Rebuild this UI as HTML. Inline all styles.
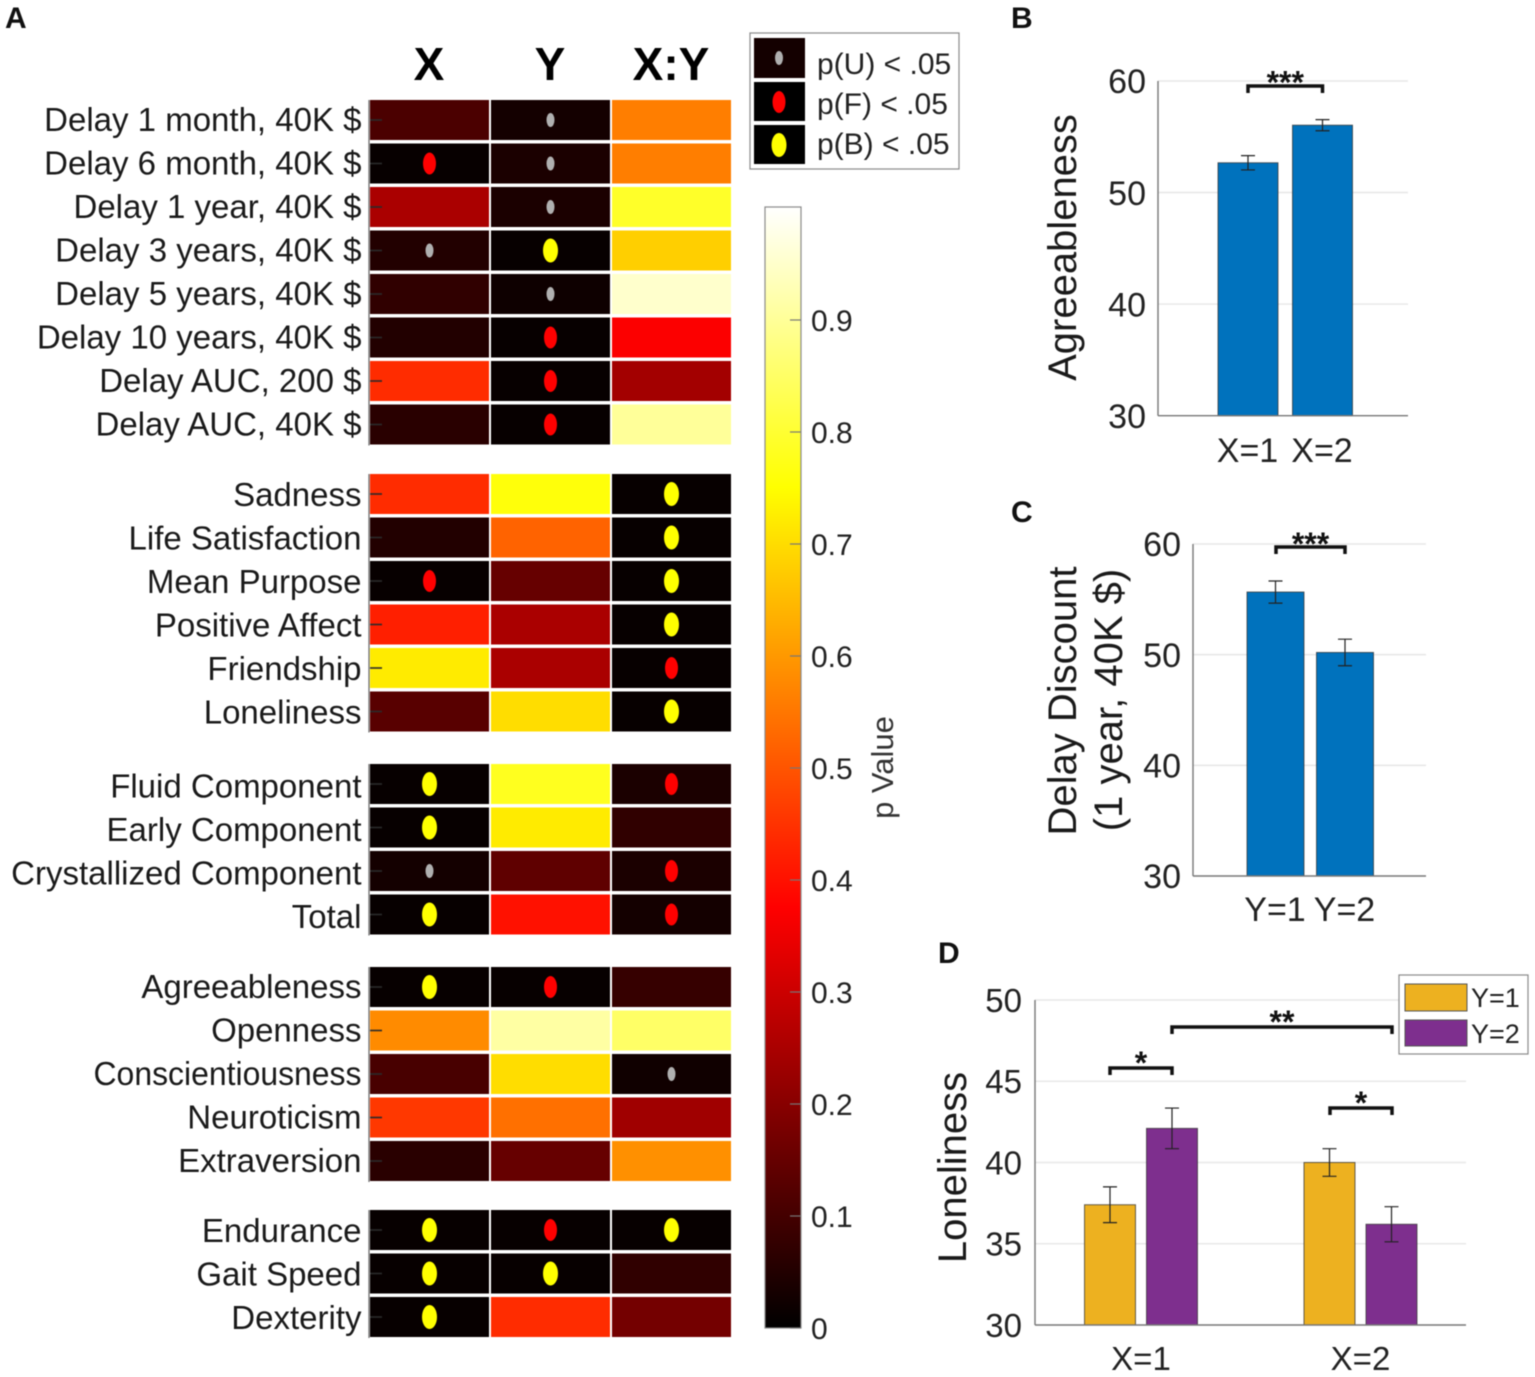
<!DOCTYPE html>
<html lang="en">
<head>
<meta charset="utf-8">
<title>Heatmap and bar charts</title>
<style>
html,body{margin:0;padding:0;background:#fff;width:1535px;height:1377px;overflow:hidden}
svg{display:block;filter:blur(0.4px)}
text{font-family:"Liberation Sans",Arial,sans-serif}
</style>
</head>
<body>
<svg id="fig" xmlns="http://www.w3.org/2000/svg" width="1535" height="1377" viewBox="0 0 1535 1377">
<defs>
<linearGradient id="hotGrad" x1="0" y1="1" x2="0" y2="0">
<stop offset="0" stop-color="#000000"/>
<stop offset="0.375" stop-color="#ff0000"/>
<stop offset="0.75" stop-color="#ffff00"/>
<stop offset="1" stop-color="#ffffff"/>
</linearGradient>
</defs>
<rect x="0" y="0" width="1535" height="1377" fill="#fff"/>
<text x="5" y="28" font-size="30" font-weight="bold" fill="#111">A</text>
<text x="1011" y="28" font-size="30" font-weight="bold" fill="#111">B</text>
<text x="1011" y="522" font-size="30" font-weight="bold" fill="#111">C</text>
<text x="938" y="963" font-size="30" font-weight="bold" fill="#111">D</text>
<text x="429" y="80" font-size="46" font-weight="bold" text-anchor="middle" fill="#000">X</text>
<text x="550" y="80" font-size="46" font-weight="bold" text-anchor="middle" fill="#000">Y</text>
<text x="671" y="80" font-size="46" font-weight="bold" text-anchor="middle" fill="#000">X:Y</text>
<g>
<rect x="750" y="33" width="209" height="136" fill="#fff" stroke="#8a8a8a" stroke-width="1.2"/>
<rect x="754" y="38" width="51" height="40" fill="#140000"/>
<rect x="754" y="82" width="51" height="39" fill="#000"/>
<rect x="754" y="125" width="51" height="39" fill="#000"/>
<ellipse cx="779" cy="58" rx="4" ry="7" fill="#b0b0b0"/>
<ellipse cx="779" cy="102" rx="6.5" ry="11" fill="#ff0000"/>
<ellipse cx="779" cy="145" rx="7.5" ry="12" fill="#ffff00"/>
<text x="817" y="74" font-size="30" fill="#222">p(U) &lt; .05</text>
<text x="817" y="114" font-size="30" fill="#222">p(F) &lt; .05</text>
<text x="817" y="154" font-size="30" fill="#222">p(B) &lt; .05</text>
</g>
<rect x="765" y="207" width="36" height="1121" fill="url(#hotGrad)" stroke="#8a8a8a" stroke-width="1.2"/>
<text transform="translate(893,767.5) rotate(-90)" font-size="31" text-anchor="middle" fill="#333">p Value</text>
<g id="heat"></g>
<g id="cbar"></g>
<g id="chartB"></g>
<g id="chartC"></g>
<g id="chartD"></g>
<text transform="translate(1076,247.5) rotate(-90)" font-size="40" text-anchor="middle" fill="#1a1a1a">Agreeableness</text>
<text transform="translate(1076,701) rotate(-90)" font-size="40" text-anchor="middle" fill="#1a1a1a">Delay Discount</text>
<text transform="translate(1122,700) rotate(-90)" font-size="40" text-anchor="middle" fill="#1a1a1a">(1 year, 40K $)</text>
<text transform="translate(966,1167.5) rotate(-90)" font-size="40" text-anchor="middle" fill="#1a1a1a">Loneliness</text>
<g>
<rect x="1399" y="975" width="129" height="79" fill="#fff" stroke="#8a8a8a" stroke-width="1.2"/>
<rect x="1405" y="984" width="62" height="27" fill="#EDB120" stroke="#555" stroke-width="1"/>
<rect x="1405" y="1020" width="62" height="26" fill="#7E2F8E" stroke="#555" stroke-width="1"/>
<text x="1471" y="1007" font-size="27" fill="#222">Y=1</text>
<text x="1471" y="1043" font-size="27" fill="#222">Y=2</text>
</g>
</svg>
<script>
/* ---------- heatmap data ---------- */
const rowLabels = ["Delay 1 month, 40K $","Delay 6 month, 40K $","Delay 1 year, 40K $","Delay 3 years, 40K $","Delay 5 years, 40K $","Delay 10 years, 40K $","Delay AUC, 200 $","Delay AUC, 40K $",
  "Sadness","Life Satisfaction","Mean Purpose","Positive Affect","Friendship","Loneliness",
  "Fluid Component","Early Component","Crystallized Component","Total",
  "Agreeableness","Openness","Conscientiousness","Neuroticism","Extraversion",
  "Endurance","Gait Speed","Dexterity"];
const groupSizes = [8,6,4,5,3];
const columnNames = ["x","y","xy"];
const pValuesX = [.11,.01,.25,.05,.07,.05,.44,.06, .44,.05,.01,.42,.72,.13, .01,.01,.03,.01, .01,.58,.106,.4575,.06, .01,.01,.01];
const pValuesY = [.03,.04,.04,.01,.02,.01,.01,.01, .76,.52,.15,.25,.25,.70, .78,.72,.14,.40, .01,.91,.70,.54,.15, .01,.01,.44];
const pValuesXY = [.56,.56,.79,.68,.95,.37,.24,.90, .01,.01,.01,.01,.01,.01, .04,.07,.04,.03, .08,.85,.024,.235,.587, .01,.07,.17];
const markersX = "_F_U____" + "__F___" + "BBUB" + "B____" + "BBB";
const markersY = "UUUBUFFF" + "______" + "____" + "F____" + "FB_";
const markersXY = "________" + "BBBBFB" + "F_FF" + "__U__" + "B__";
const colorbarTicks = [0,0.1,0.2,0.3,0.4,0.5,0.6,0.7,0.8,0.9];

/* ---------- bar chart data ---------- */
const categoriesB = ["X=1","X=2"];
const valuesB = [52.67,56.04];
const errorsB = [0.64,0.5];
const ticksB = [30,40,50,60];
const categoriesC = ["Y=1","Y=2"];
const valuesC = [55.66,50.2];
const errorsC = [1.0,1.2];
const ticksC = [30,40,50,60];
const categoriesD = ["X=1","X=2"];
const seriesNamesD = ["y1","y2"];
const valuesDY1 = [37.4,40.0];
const valuesDY2 = [42.1,36.2];
const errorsDY1 = [1.1,0.85];
const errorsDY2 = [1.25,1.08];
const ticksD = [30,35,40,45,50];

const NS = "http://www.w3.org/2000/svg";
function mk(tag, parent, attrs){
  const e = document.createElementNS(NS, tag);
  for (const k in attrs) e.setAttribute(k, attrs[k]);
  parent.appendChild(e);
  return e;
}
function hot(t){
  const c = v => Math.round(255*Math.max(0,Math.min(1,v)));
  return "rgb("+c(t/0.375)+","+c((t-0.375)/0.375)+","+c((t-0.75)/0.25)+")";
}

/* ---------- heatmap ---------- */
const heat = document.getElementById("heat");
const rowStep = 43.5, rowTop = 120;
const groupExtra = [0,26,29,29,25.5];
const groupLabelShift = [0,1,2.5,0,1];
function groupOf(i){
  let n = 0;
  for (let g=0; g<groupSizes.length; g++){
    n += groupSizes[g];
    if (i<n) return g;
  }
  return groupSizes.length-1;
}
function rowY(i){
  let y = rowTop + i*rowStep;
  const gi = groupOf(i);
  for (let g=1; g<=gi; g++) y += groupExtra[g];
  return y;
}
const colX = j => 370 + j*121;
const colCenter = j => colX(j) + 59.5;
const cols = [pValuesX,pValuesY,pValuesXY];
const markerCols = [markersX,markersY,markersXY];
const markerStyle = {U:[4,7,"#b0b0b0"],F:[6.5,11,"#ff0000"],B:[7.5,12,"#ffff00"]};

let start = 0;
groupSizes.forEach(function(sz){
  const ax = mk("line", heat, {x1:369,x2:369,y1:rowY(start)-20,y2:rowY(start+sz-1)+21,stroke:"#666","stroke-width":1.2});
  
  
  start += sz;
});
rowLabels.forEach(function(label,i){
  const y = rowY(i);
  const t = mk("text", heat, {x:361.5,y:y+11+groupLabelShift[groupOf(i)],"font-size":33,"text-anchor":"end",fill:"#1a1a1a"});
  t.textContent = label;
  if (label === "Conscientiousness"){
    t.setAttribute("textLength","268");
    t.setAttribute("lengthAdjust","spacingAndGlyphs");
  }
  
  
  cols.forEach(function(col,j){
    const r = mk("rect", heat, {x:colX(j),y:y-20,width:119,height:40,fill:hot(col[i])});
    
    
    const m = markerStyle[markerCols[j][i]];
    if (m){
      const el = mk("ellipse", heat, {cx:colCenter(j),cy:y,rx:m[0],ry:m[1],fill:m[2]});
      
      
    }
  });
  const tk = mk("line", heat, {x1:370,x2:382,y1:y,y2:y,stroke:"#2a2a2a","stroke-width":1.6});
  
  
});

/* ---------- colorbar ---------- */
const cbar = document.getElementById("cbar");
colorbarTicks.forEach(function(v){
  const y = 1328 - v*1120;
  const l = mk("line", cbar, {x1:790,x2:801,y1:y,y2:y,stroke:"#777","stroke-width":1.2});
  
  
  const t = mk("text", cbar, {x:811,y:y+11,"font-size":30,fill:"#222"});
  t.textContent = String(v);
  
  
});

/* ---------- bar chart helpers ---------- */
function axes(g,o){
  o.ticks.forEach(function(v){
    const y = o.yOf(v);
    if (v !== o.ticks[0]){
      const gl = mk("line", g, {x1:o.left,x2:o.right,y1:y,y2:y,stroke:"#e8e8e8","stroke-width":1.6});
      
      
    }
    const t = mk("text", g, {x:o.left-o.labelGap,y:y+o.fs*0.36,"font-size":o.fs,"text-anchor":"end",fill:"#222"});
    t.textContent = v;
    
    
  });
}
function axisLines(g,o){
  const b = o.yOf(o.ticks[0]), top = o.yOf(o.ticks[o.ticks.length-1]);
  const ya = mk("line", g, {x1:o.left,x2:o.left,y1:top,y2:b,stroke:"#777","stroke-width":1.4});
  
  
  const xa = mk("line", g, {x1:o.left,x2:o.right,y1:b,y2:b,stroke:"#777","stroke-width":1.4});
  
  
}
function bar(g,cx,w,val,err,fill,yOf,base,name){
  const y = yOf(val);
  const r = mk("rect", g, {x:cx-w/2,y:y,width:w,height:yOf(base)-y,fill:fill,stroke:"#333","stroke-width":1,"stroke-opacity":0.75});
  
  
  const hi = yOf(val+err), lo = yOf(val-err), cap = 7;
  const e = mk("path", g, {d:"M"+(cx-cap)+" "+hi+"H"+(cx+cap)+"M"+(cx-cap)+" "+lo+"H"+(cx+cap)+"M"+cx+" "+hi+"V"+lo,fill:"none",stroke:"#222","stroke-width":1.2});
  
  
}
function bracket(g,x1,x2,y,label,fs,starDy){
  const p = mk("path", g, {d:"M"+x1+" "+(y+7)+"V"+y+"H"+x2+"V"+(y+7),fill:"none",stroke:"#111","stroke-width":3.5});
  
  
  const t = mk("text", g, {x:(x1+x2)/2,y:y+starDy,"font-size":fs,"font-weight":"bold","text-anchor":"middle",fill:"#111"});
  t.textContent = label;
  
  
}
function xLabel(g,x,y,s,fs){
  const t = mk("text", g, {x:x,y:y,"font-size":fs,"text-anchor":"middle",fill:"#222"});
  t.textContent = s;
  
  
}

/* ---------- panel B ---------- */
(function(){
  const g = document.getElementById("chartB");
  const yOf = v => 415.7 - (v-30)*(415.7-81)/30;
  const xOf = i => 1248 + i*74.5;
  const o = {ticks:ticksB,yOf:yOf,left:1158,right:1408,labelGap:12,fs:34};
  axes(g,o);
  valuesB.forEach(function(v,i){
    bar(g,xOf(i),60,v,errorsB[i],"#0072BD",yOf,ticksB[0],"bar-agreeableness-"+categoriesB[i]);
    xLabel(g,xOf(i)-0.5,462,categoriesB[i],34);
  });
  axisLines(g,o);
  bracket(g,1248,1322.5,86,"***",32,7.5);
})();

/* ---------- panel C ---------- */
(function(){
  const g = document.getElementById("chartC");
  const yOf = v => 876 - (v-30)*(876-544)/30;
  const xOf = i => 1275.5 + i*69.5;
  const o = {ticks:ticksC,yOf:yOf,left:1193,right:1426,labelGap:12,fs:34};
  axes(g,o);
  valuesC.forEach(function(v,i){
    bar(g,xOf(i),57,v,errorsC[i],"#0072BD",yOf,ticksC[0],"bar-delay-discount-"+categoriesC[i]);
    xLabel(g,xOf(i)-0.5,921,categoriesC[i],34);
  });
  axisLines(g,o);
  bracket(g,1276,1345,547,"***",32,8);
})();

/* ---------- panel D ---------- */
(function(){
  const g = document.getElementById("chartD");
  const yOf = v => 1325 - (v-30)*(1325-1000)/20;
  const xOf = i => 1141 + i*219.5;
  const o = {ticks:ticksD,yOf:yOf,left:1035,right:1466,labelGap:13,fs:33};
  axes(g,o);
  categoriesD.forEach(function(c,i){
    bar(g,xOf(i)-31,51,valuesDY1[i],errorsDY1[i],"#EDB120",yOf,ticksD[0],"bar-loneliness-"+c+"-"+seriesNamesD[0]);
    bar(g,xOf(i)+31,51,valuesDY2[i],errorsDY2[i],"#7E2F8E",yOf,ticksD[0],"bar-loneliness-"+c+"-"+seriesNamesD[1]);
    xLabel(g,xOf(i),1370,c,33);
  });
  axisLines(g,o);
  bracket(g,1110,1172,1068,"*",32,6);
  bracket(g,1172,1392,1027,"**",32,6);
  bracket(g,1330,1392,1108,"*",32,6);
})();
</script>
</body>
</html>
